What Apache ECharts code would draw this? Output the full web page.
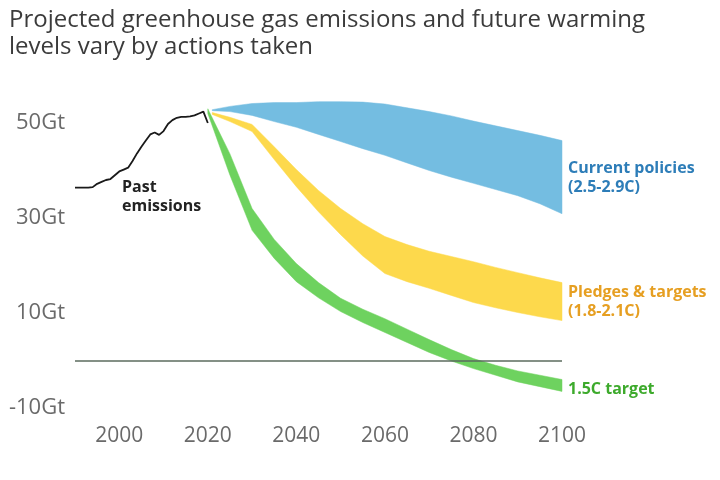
<!DOCTYPE html>
<html>
<head>
<meta charset="utf-8">
<script src="https://cdn.jsdelivr.net/npm/echarts@6/dist/echarts.min.js"></script>
<style>
  html, body { margin: 0; padding: 0; background: #fff; }
  #chart { width: 720px; height: 480px; }
</style>
</head>
<body>
<div id="chart"></div>
<script>
// past emissions (Gt)
var pastYears = [1990, 1991, 1992, 1993, 1994, 1995, 1996, 1997, 1998, 1999, 2000,
    2001, 2002, 2003, 2004, 2005, 2006, 2007, 2008, 2009, 2010,
    2011, 2012, 2013, 2014, 2015, 2016, 2017, 2018, 2019, 2020];
var pastValues = [36.4, 36.4, 36.4, 36.4, 36.5, 37.2, 37.6, 38.0, 38.2, 39.0, 39.8,
    40.2, 40.6, 42.0, 43.6, 45.0, 46.3, 47.6, 48.0, 47.5, 48.3,
    49.8, 50.6, 51.1, 51.3, 51.3, 51.4, 51.6, 52.0, 52.4, 50.0];

// current policies band
var policyYears = [2021, 2025, 2030, 2035, 2040, 2045, 2050, 2055, 2060, 2065, 2070, 2075, 2080, 2085, 2090, 2095, 2100];
var policyUpper = [52.8, 53.5, 54.1, 54.3, 54.3, 54.5, 54.5, 54.4, 54.0, 53.2, 52.4, 51.5, 50.4, 49.4, 48.4, 47.4, 46.3];
var policyLower = [52.6, 52.4, 51.6, 50.3, 49.1, 47.6, 46.1, 44.6, 43.2, 41.6, 40.0, 38.6, 37.3, 36.0, 34.7, 33.0, 30.9];

// pledges & targets band
var pledgeYears = [2021, 2025, 2030, 2035, 2040, 2045, 2050, 2055, 2060, 2065, 2070, 2075, 2080, 2085, 2090, 2095, 2100];
var pledgeUpper = [52.2, 51.2, 49.7, 45.0, 40.2, 35.8, 32.0, 28.8, 26.1, 24.4, 23.0, 21.9, 20.8, 19.6, 18.5, 17.4, 16.4];
var pledgeLower = [51.8, 50.3, 48.2, 42.3, 36.6, 31.3, 26.5, 22.0, 18.3, 16.6, 15.2, 13.7, 12.2, 11.1, 10.1, 9.2, 8.4];

// 1.5C target band
var targetYears = [2020, 2025, 2030, 2035, 2040, 2045, 2050, 2055, 2060, 2065, 2070, 2075, 2080, 2085, 2090, 2095, 2100];
var targetUpper = [53.0, 43.5, 32.0, 25.5, 20.4, 16.4, 13.1, 10.8, 8.8, 6.6, 4.4, 2.3, 0.4, -1.0, -2.2, -3.1, -4.0];
var targetLower = [52.0, 39.0, 27.4, 21.5, 16.6, 13.2, 10.3, 8.0, 5.9, 3.8, 1.7, -0.1, -1.7, -3.1, -4.5, -5.5, -6.5];

var xLabels = [2000, 2020, 2040, 2060, 2080, 2100];
var yLabels = [-10, 10, 30, 50];

var font = '"Open Sans", "DejaVu Sans", sans-serif';

// one custom series per band: polygon = upper edge forward, lower edge back
function band(name, xs, up, low, color) {
    var rows = xs.map(function (x, i) { return [x, up[i], low[i]]; });
    return {
        name: name, type: 'custom', silent: true,
        data: rows,
        encode: {x: 0, y: [1, 2]},
        renderItem: function (params, api) {
            if (params.dataIndex !== 0) return null;
            var pts = [];
            rows.forEach(function (r) { pts.push(api.coord([r[0], r[1]])); });
            for (var i = rows.length - 1; i >= 0; i--) {
                pts.push(api.coord([rows[i][0], rows[i][2]]));
            }
            return {
                type: 'polygon',
                shape: {points: pts},
                style: {fill: color, stroke: color, lineWidth: 0.5}
            };
        }
    };
}

var chart = echarts.init(document.getElementById('chart'));

var series = [
    band('policies', policyYears, policyUpper, policyLower, '#74bde1'),
    band('pledges', pledgeYears, pledgeUpper, pledgeLower, '#fdd94c'),
    band('target', targetYears, targetUpper, targetLower, '#6ed25f')
];
series.push({
    name: 'past', type: 'line', data: pastYears.map(function (y, i) { return [y, pastValues[i]]; }),
    symbol: 'none', lineStyle: {color: '#1a1a1a', width: 1.8}, silent: true, z: 3,
    markLine: {
        silent: true, symbol: 'none', label: {show: false},
        lineStyle: {color: '#5b6b5e', width: 1.5, type: 'solid'},
        data: [{yAxis: 0}]
    }
});

chart.setOption({
    animation: false,
    title: {
        text: 'Projected greenhouse gas emissions and future warming\nlevels vary by actions taken',
        left: 4, top: 2,
        textStyle: {fontFamily: font, fontSize: 24, fontWeight: 'normal', color: '#3b3b3b', lineHeight: 27}
    },
    grid: {left: 75, right: 158, top: 75.5, bottom: 72},
    xAxis: {
        type: 'value', min: 1990, max: 2100,
        axisLine: {show: false}, axisTick: {show: false}, splitLine: {show: false},
        axisLabel: {
            customValues: xLabels, margin: 18,
            fontFamily: font, fontSize: 21, color: '#6a6a6a',
            formatter: function (v) { return String(v); }
        }
    },
    yAxis: {
        type: 'value', min: -10, max: 60,
        axisLine: {show: false}, axisTick: {show: false}, splitLine: {show: false},
        axisLabel: {
            customValues: yLabels, margin: 10,
            fontFamily: font, fontSize: 22, color: '#6a6a6a',
            formatter: '{value}Gt'
        }
    },
    series: series,
    graphic: [
        {type: 'text', left: 122, top: 178, style: {
            text: 'Past\nemissions', fill: '#222', font: 'bold 16px ' + font, lineHeight: 19}},
        {type: 'text', left: 568, top: 159, style: {
            text: 'Current policies\n(2.5-2.9C)', fill: '#2d7db8', font: 'bold 16px ' + font, lineHeight: 19}},
        {type: 'text', left: 568, top: 283, style: {
            text: 'Pledges & targets\n(1.8-2.1C)', fill: '#e69f22', font: 'bold 16px ' + font, lineHeight: 19}},
        {type: 'text', left: 568, top: 380, style: {
            text: '1.5C target', fill: '#3daa2c', font: 'bold 16px ' + font, lineHeight: 19}}
    ]
});
</script>
</body>
</html>
